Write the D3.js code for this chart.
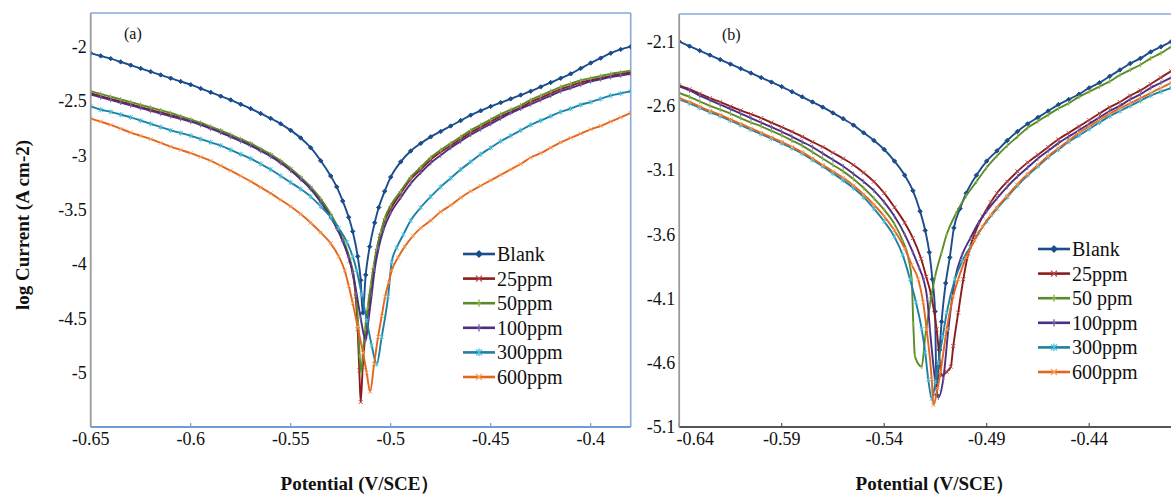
<!DOCTYPE html>
<html><head><meta charset="utf-8">
<script src="https://cdn.jsdelivr.net/npm/d3@7"></script>
<style>html,body{margin:0;padding:0;background:#fff;} svg{display:block;}</style>
</head><body><svg id="chart" width="1171" height="494"></svg>
<script>
// ---------------- DATA ----------------
const seriesNamesA = ["Blank","25ppm","50ppm","100ppm","300ppm","600ppm"];
const seriesNamesB = ["Blank","25ppm","50 ppm","100ppm","300ppm","600ppm"];

const xTicksA = [-0.65,-0.6,-0.55,-0.5,-0.45,-0.4];
const xTickLabelsA = ["-0.65","-0.6","-0.55","-0.5","-0.45","-0.4"];
const yTicksA = [-2,-2.5,-3,-3.5,-4,-4.5,-5];
const yTickLabelsA = ["-2","-2.5","-3","-3.5","-4","-4.5","-5"];

const xTicksB = [-0.64,-0.59,-0.54,-0.49,-0.44];
const xTickLabelsB = ["-0.64","-0.59","-0.54","-0.49","-0.44"];
const yTicksB = [-2.1,-2.6,-3.1,-3.6,-4.1,-4.6,-5.1];
const yTickLabelsB = ["-2.1","-2.6","-3.1","-3.6","-4.1","-4.6","-5.1"];

// Panel (a): [potential V/SCE, log current]
const blankA = [[-0.650,-2.06],[-0.645,-2.085],[-0.640,-2.11],[-0.635,-2.14],[-0.630,-2.17],[-0.625,-2.20],[-0.620,-2.23],[-0.615,-2.26],[-0.610,-2.29],[-0.605,-2.32],[-0.600,-2.35],[-0.595,-2.385],[-0.590,-2.42],[-0.585,-2.455],[-0.580,-2.49],[-0.575,-2.53],[-0.570,-2.57],[-0.565,-2.615],[-0.560,-2.66],[-0.555,-2.71],[-0.550,-2.77],[-0.545,-2.84],[-0.540,-2.93],[-0.535,-3.05],[-0.530,-3.19],[-0.527,-3.29],[-0.524,-3.42],[-0.521,-3.57],[-0.519,-3.70],[-0.5165,-3.93],[-0.5150,-4.15],[-0.5140,-4.45],[-0.5125,-4.10],[-0.5105,-3.84],[-0.508,-3.62],[-0.506,-3.48],[-0.503,-3.33],[-0.500,-3.20],[-0.495,-3.06],[-0.490,-2.96],[-0.485,-2.89],[-0.480,-2.83],[-0.475,-2.78],[-0.470,-2.73],[-0.465,-2.68],[-0.460,-2.63],[-0.455,-2.59],[-0.450,-2.55],[-0.445,-2.515],[-0.440,-2.48],[-0.435,-2.445],[-0.430,-2.41],[-0.425,-2.37],[-0.420,-2.33],[-0.415,-2.29],[-0.410,-2.25],[-0.405,-2.20],[-0.400,-2.15],[-0.395,-2.105],[-0.390,-2.06],[-0.385,-2.025],[-0.380,-2.00]];
const ppm25A = [[-0.650,-2.43],[-0.645,-2.455],[-0.640,-2.48],[-0.635,-2.505],[-0.630,-2.53],[-0.625,-2.555],[-0.620,-2.58],[-0.615,-2.605],[-0.610,-2.63],[-0.605,-2.655],[-0.600,-2.68],[-0.595,-2.71],[-0.590,-2.745],[-0.585,-2.78],[-0.580,-2.82],[-0.575,-2.86],[-0.570,-2.90],[-0.565,-2.95],[-0.560,-3.00],[-0.555,-3.06],[-0.550,-3.13],[-0.545,-3.21],[-0.540,-3.30],[-0.535,-3.42],[-0.530,-3.56],[-0.527,-3.66],[-0.524,-3.78],[-0.5205,-3.97],[-0.519,-4.08],[-0.5175,-4.30],[-0.5165,-4.60],[-0.5157,-4.98],[-0.5150,-5.27],[-0.5140,-4.95],[-0.5128,-4.67],[-0.5115,-4.45],[-0.5104,-4.30],[-0.5087,-4.06],[-0.507,-3.88],[-0.5054,-3.74],[-0.503,-3.60],[-0.500,-3.49],[-0.495,-3.35],[-0.490,-3.22],[-0.485,-3.13],[-0.480,-3.04],[-0.475,-2.97],[-0.470,-2.91],[-0.465,-2.85],[-0.460,-2.79],[-0.455,-2.74],[-0.450,-2.69],[-0.445,-2.64],[-0.440,-2.60],[-0.435,-2.56],[-0.430,-2.51],[-0.425,-2.47],[-0.420,-2.43],[-0.415,-2.39],[-0.410,-2.36],[-0.405,-2.33],[-0.400,-2.31],[-0.395,-2.29],[-0.390,-2.27],[-0.385,-2.25],[-0.380,-2.24]];
const ppm50A = [[-0.650,-2.41],[-0.645,-2.435],[-0.640,-2.46],[-0.635,-2.485],[-0.630,-2.51],[-0.625,-2.535],[-0.620,-2.56],[-0.615,-2.585],[-0.610,-2.61],[-0.605,-2.64],[-0.600,-2.67],[-0.595,-2.70],[-0.590,-2.735],[-0.585,-2.77],[-0.580,-2.81],[-0.575,-2.85],[-0.570,-2.89],[-0.565,-2.94],[-0.560,-2.99],[-0.555,-3.05],[-0.550,-3.12],[-0.545,-3.20],[-0.540,-3.29],[-0.535,-3.40],[-0.530,-3.54],[-0.527,-3.64],[-0.524,-3.76],[-0.5205,-3.95],[-0.519,-4.06],[-0.5175,-4.25],[-0.5163,-4.55],[-0.5155,-4.85],[-0.5148,-5.00],[-0.5138,-4.80],[-0.5128,-4.60],[-0.5115,-4.40],[-0.5100,-4.20],[-0.5085,-4.02],[-0.507,-3.86],[-0.505,-3.71],[-0.503,-3.58],[-0.500,-3.46],[-0.495,-3.33],[-0.490,-3.20],[-0.485,-3.11],[-0.480,-3.02],[-0.475,-2.95],[-0.470,-2.89],[-0.465,-2.83],[-0.460,-2.77],[-0.455,-2.72],[-0.450,-2.67],[-0.445,-2.62],[-0.440,-2.58],[-0.435,-2.54],[-0.430,-2.49],[-0.425,-2.45],[-0.420,-2.41],[-0.415,-2.37],[-0.410,-2.34],[-0.405,-2.31],[-0.400,-2.29],[-0.395,-2.27],[-0.390,-2.25],[-0.385,-2.235],[-0.380,-2.22]];
const ppm100A = [[-0.650,-2.44],[-0.645,-2.465],[-0.640,-2.49],[-0.635,-2.515],[-0.630,-2.54],[-0.625,-2.565],[-0.620,-2.59],[-0.615,-2.615],[-0.610,-2.64],[-0.605,-2.665],[-0.600,-2.69],[-0.595,-2.72],[-0.590,-2.755],[-0.585,-2.79],[-0.580,-2.83],[-0.575,-2.87],[-0.570,-2.91],[-0.565,-2.96],[-0.560,-3.01],[-0.555,-3.07],[-0.550,-3.14],[-0.545,-3.22],[-0.540,-3.31],[-0.535,-3.43],[-0.530,-3.57],[-0.527,-3.67],[-0.524,-3.79],[-0.521,-3.94],[-0.519,-4.08],[-0.517,-4.28],[-0.5150,-4.50],[-0.5125,-4.70],[-0.5110,-4.50],[-0.5095,-4.28],[-0.508,-4.05],[-0.506,-3.85],[-0.5035,-3.68],[-0.500,-3.53],[-0.495,-3.39],[-0.490,-3.26],[-0.485,-3.16],[-0.480,-3.07],[-0.475,-3.00],[-0.470,-2.93],[-0.465,-2.87],[-0.460,-2.81],[-0.455,-2.76],[-0.450,-2.71],[-0.445,-2.66],[-0.440,-2.61],[-0.435,-2.57],[-0.430,-2.53],[-0.425,-2.49],[-0.420,-2.45],[-0.415,-2.41],[-0.410,-2.38],[-0.405,-2.35],[-0.400,-2.32],[-0.395,-2.30],[-0.390,-2.28],[-0.385,-2.265],[-0.380,-2.25]];
const ppm300A = [[-0.650,-2.55],[-0.645,-2.58],[-0.640,-2.60],[-0.635,-2.625],[-0.630,-2.65],[-0.625,-2.68],[-0.620,-2.71],[-0.615,-2.74],[-0.610,-2.77],[-0.605,-2.795],[-0.600,-2.82],[-0.595,-2.85],[-0.590,-2.88],[-0.585,-2.91],[-0.580,-2.95],[-0.575,-2.99],[-0.570,-3.03],[-0.565,-3.08],[-0.560,-3.13],[-0.555,-3.19],[-0.550,-3.25],[-0.545,-3.31],[-0.540,-3.38],[-0.535,-3.47],[-0.530,-3.57],[-0.526,-3.67],[-0.5218,-3.80],[-0.519,-3.93],[-0.517,-4.06],[-0.5145,-4.28],[-0.512,-4.52],[-0.5095,-4.75],[-0.5070,-4.92],[-0.5045,-4.67],[-0.5013,-4.30],[-0.4995,-3.98],[-0.497,-3.85],[-0.4937,-3.73],[-0.490,-3.60],[-0.485,-3.48],[-0.480,-3.38],[-0.475,-3.29],[-0.470,-3.21],[-0.465,-3.13],[-0.460,-3.06],[-0.455,-2.99],[-0.450,-2.93],[-0.445,-2.87],[-0.440,-2.82],[-0.435,-2.77],[-0.430,-2.72],[-0.425,-2.68],[-0.420,-2.64],[-0.415,-2.60],[-0.410,-2.57],[-0.405,-2.535],[-0.400,-2.51],[-0.395,-2.48],[-0.390,-2.45],[-0.385,-2.43],[-0.380,-2.41]];
const ppm600A = [[-0.650,-2.66],[-0.645,-2.69],[-0.640,-2.72],[-0.635,-2.755],[-0.630,-2.79],[-0.625,-2.82],[-0.620,-2.85],[-0.615,-2.885],[-0.610,-2.92],[-0.605,-2.95],[-0.600,-2.98],[-0.595,-3.015],[-0.590,-3.05],[-0.585,-3.095],[-0.580,-3.14],[-0.575,-3.19],[-0.570,-3.24],[-0.565,-3.295],[-0.560,-3.35],[-0.555,-3.41],[-0.550,-3.47],[-0.545,-3.54],[-0.540,-3.62],[-0.535,-3.71],[-0.530,-3.81],[-0.526,-3.93],[-0.523,-4.06],[-0.521,-4.20],[-0.519,-4.36],[-0.5165,-4.58],[-0.5138,-4.82],[-0.512,-5.00],[-0.5103,-5.175],[-0.5083,-4.92],[-0.5063,-4.67],[-0.5045,-4.48],[-0.5028,-4.30],[-0.5010,-4.17],[-0.4995,-4.06],[-0.4963,-3.94],[-0.493,-3.84],[-0.4888,-3.74],[-0.485,-3.67],[-0.480,-3.60],[-0.475,-3.52],[-0.470,-3.46],[-0.465,-3.39],[-0.460,-3.33],[-0.455,-3.28],[-0.450,-3.23],[-0.445,-3.18],[-0.440,-3.13],[-0.435,-3.08],[-0.430,-3.02],[-0.425,-2.98],[-0.420,-2.93],[-0.415,-2.88],[-0.410,-2.84],[-0.405,-2.80],[-0.400,-2.76],[-0.395,-2.73],[-0.390,-2.69],[-0.385,-2.65],[-0.380,-2.61]];

// Panel (b)
const blankB = [[-0.640,-2.10],[-0.635,-2.135],[-0.630,-2.17],[-0.625,-2.205],[-0.620,-2.24],[-0.615,-2.275],[-0.610,-2.31],[-0.605,-2.345],[-0.600,-2.38],[-0.595,-2.415],[-0.590,-2.45],[-0.585,-2.49],[-0.580,-2.53],[-0.575,-2.57],[-0.570,-2.61],[-0.565,-2.655],[-0.560,-2.70],[-0.555,-2.75],[-0.550,-2.81],[-0.545,-2.87],[-0.540,-2.94],[-0.535,-3.03],[-0.530,-3.14],[-0.526,-3.26],[-0.5225,-3.42],[-0.520,-3.57],[-0.518,-3.74],[-0.5165,-3.95],[-0.5152,-4.20],[-0.5144,-4.85],[-0.5130,-4.50],[-0.5120,-4.28],[-0.510,-3.98],[-0.508,-3.78],[-0.506,-3.55],[-0.503,-3.40],[-0.500,-3.28],[-0.495,-3.14],[-0.490,-3.03],[-0.485,-2.95],[-0.480,-2.87],[-0.475,-2.80],[-0.470,-2.74],[-0.465,-2.69],[-0.460,-2.64],[-0.455,-2.59],[-0.450,-2.55],[-0.445,-2.51],[-0.440,-2.46],[-0.435,-2.42],[-0.430,-2.37],[-0.425,-2.32],[-0.420,-2.27],[-0.415,-2.23],[-0.410,-2.18],[-0.405,-2.14],[-0.400,-2.10],[-0.395,-2.06]];
const ppm25B = [[-0.640,-2.44],[-0.635,-2.47],[-0.630,-2.505],[-0.625,-2.54],[-0.620,-2.57],[-0.615,-2.605],[-0.610,-2.635],[-0.605,-2.665],[-0.600,-2.695],[-0.595,-2.73],[-0.590,-2.765],[-0.585,-2.80],[-0.580,-2.84],[-0.575,-2.88],[-0.570,-2.92],[-0.565,-2.965],[-0.560,-3.01],[-0.555,-3.06],[-0.550,-3.12],[-0.545,-3.19],[-0.540,-3.28],[-0.535,-3.39],[-0.530,-3.51],[-0.526,-3.63],[-0.522,-3.79],[-0.5195,-3.93],[-0.517,-4.08],[-0.5144,-4.34],[-0.5128,-4.60],[-0.5120,-4.70],[-0.5095,-4.67],[-0.5075,-4.63],[-0.5063,-4.47],[-0.5039,-4.21],[-0.5014,-3.95],[-0.4990,-3.75],[-0.4960,-3.60],[-0.4920,-3.46],[-0.4880,-3.35],[-0.485,-3.28],[-0.480,-3.19],[-0.475,-3.11],[-0.470,-3.04],[-0.465,-2.98],[-0.460,-2.92],[-0.455,-2.86],[-0.450,-2.81],[-0.445,-2.76],[-0.440,-2.71],[-0.435,-2.66],[-0.430,-2.61],[-0.425,-2.57],[-0.420,-2.52],[-0.415,-2.48],[-0.410,-2.43],[-0.405,-2.38],[-0.400,-2.33],[-0.395,-2.29]];
const ppm50B = [[-0.640,-2.50],[-0.635,-2.53],[-0.630,-2.565],[-0.625,-2.60],[-0.620,-2.63],[-0.615,-2.66],[-0.610,-2.695],[-0.605,-2.73],[-0.600,-2.76],[-0.595,-2.795],[-0.590,-2.83],[-0.585,-2.87],[-0.580,-2.91],[-0.575,-2.96],[-0.570,-3.01],[-0.565,-3.06],[-0.560,-3.11],[-0.555,-3.17],[-0.550,-3.24],[-0.545,-3.32],[-0.540,-3.41],[-0.535,-3.52],[-0.531,-3.65],[-0.528,-3.80],[-0.5266,-3.95],[-0.5258,-4.30],[-0.5250,-4.55],[-0.5217,-4.63],[-0.5200,-4.40],[-0.5177,-4.15],[-0.5152,-3.93],[-0.512,-3.74],[-0.5095,-3.60],[-0.505,-3.44],[-0.500,-3.30],[-0.495,-3.19],[-0.490,-3.08],[-0.485,-2.99],[-0.480,-2.91],[-0.475,-2.84],[-0.470,-2.77],[-0.465,-2.72],[-0.460,-2.67],[-0.455,-2.62],[-0.450,-2.58],[-0.445,-2.53],[-0.440,-2.49],[-0.435,-2.45],[-0.430,-2.41],[-0.425,-2.36],[-0.420,-2.32],[-0.415,-2.28],[-0.410,-2.23],[-0.405,-2.19],[-0.400,-2.14],[-0.395,-2.10]];
const ppm100B = [[-0.640,-2.45],[-0.635,-2.48],[-0.630,-2.52],[-0.625,-2.555],[-0.620,-2.59],[-0.615,-2.625],[-0.610,-2.66],[-0.605,-2.695],[-0.600,-2.73],[-0.595,-2.765],[-0.590,-2.80],[-0.585,-2.84],[-0.580,-2.88],[-0.575,-2.92],[-0.570,-2.97],[-0.565,-3.02],[-0.560,-3.07],[-0.555,-3.13],[-0.550,-3.19],[-0.545,-3.26],[-0.540,-3.35],[-0.535,-3.46],[-0.530,-3.60],[-0.526,-3.74],[-0.523,-3.86],[-0.5209,-3.95],[-0.5190,-4.10],[-0.5177,-4.34],[-0.5152,-4.73],[-0.5136,-4.87],[-0.5112,-4.73],[-0.5087,-4.34],[-0.5055,-3.95],[-0.5020,-3.76],[-0.4980,-3.63],[-0.4940,-3.51],[-0.490,-3.42],[-0.485,-3.32],[-0.480,-3.23],[-0.475,-3.15],[-0.470,-3.08],[-0.465,-3.01],[-0.460,-2.95],[-0.455,-2.89],[-0.450,-2.84],[-0.445,-2.79],[-0.440,-2.74],[-0.435,-2.69],[-0.430,-2.64],[-0.425,-2.60],[-0.420,-2.55],[-0.415,-2.51],[-0.410,-2.46],[-0.405,-2.42],[-0.400,-2.38],[-0.395,-2.34]];
const ppm300B = [[-0.640,-2.55],[-0.635,-2.58],[-0.630,-2.615],[-0.625,-2.65],[-0.620,-2.68],[-0.615,-2.715],[-0.610,-2.75],[-0.605,-2.785],[-0.600,-2.82],[-0.595,-2.855],[-0.590,-2.89],[-0.585,-2.93],[-0.580,-2.97],[-0.575,-3.02],[-0.570,-3.07],[-0.565,-3.125],[-0.560,-3.18],[-0.555,-3.24],[-0.550,-3.31],[-0.545,-3.40],[-0.540,-3.50],[-0.535,-3.62],[-0.531,-3.76],[-0.5274,-3.95],[-0.5245,-4.13],[-0.5217,-4.34],[-0.5200,-4.52],[-0.5185,-4.73],[-0.5168,-4.88],[-0.5150,-4.75],[-0.5136,-4.60],[-0.5115,-4.40],[-0.5095,-4.21],[-0.5055,-3.95],[-0.5020,-3.81],[-0.4980,-3.70],[-0.4940,-3.59],[-0.490,-3.50],[-0.485,-3.40],[-0.480,-3.31],[-0.475,-3.22],[-0.470,-3.14],[-0.465,-3.07],[-0.460,-3.00],[-0.455,-2.94],[-0.450,-2.88],[-0.445,-2.83],[-0.440,-2.78],[-0.435,-2.73],[-0.430,-2.68],[-0.425,-2.64],[-0.420,-2.60],[-0.415,-2.56],[-0.410,-2.52],[-0.405,-2.49],[-0.400,-2.46],[-0.395,-2.43]];
const ppm600B = [[-0.640,-2.54],[-0.635,-2.57],[-0.630,-2.605],[-0.625,-2.64],[-0.620,-2.67],[-0.615,-2.705],[-0.610,-2.74],[-0.605,-2.775],[-0.600,-2.81],[-0.595,-2.845],[-0.590,-2.88],[-0.585,-2.92],[-0.580,-2.96],[-0.575,-3.01],[-0.570,-3.06],[-0.565,-3.11],[-0.560,-3.16],[-0.555,-3.22],[-0.550,-3.29],[-0.545,-3.37],[-0.540,-3.46],[-0.535,-3.57],[-0.530,-3.71],[-0.5265,-3.84],[-0.5234,-3.95],[-0.5210,-4.13],[-0.5193,-4.34],[-0.5168,-4.73],[-0.5160,-4.93],[-0.5140,-4.80],[-0.5125,-4.67],[-0.5095,-4.34],[-0.5063,-4.08],[-0.5039,-3.95],[-0.5000,-3.78],[-0.4960,-3.65],[-0.492,-3.54],[-0.488,-3.45],[-0.485,-3.39],[-0.480,-3.30],[-0.475,-3.21],[-0.470,-3.13],[-0.465,-3.06],[-0.460,-2.99],[-0.455,-2.93],[-0.450,-2.87],[-0.445,-2.81],[-0.440,-2.76],[-0.435,-2.71],[-0.430,-2.66],[-0.425,-2.62],[-0.420,-2.58],[-0.415,-2.54],[-0.410,-2.50],[-0.405,-2.46],[-0.400,-2.42],[-0.395,-2.38]];

const xTitle = "Potential (V/SCE）";
const yTitle = "log Current (A cm-2)";

// ---------------- STYLE ----------------
const lineColors = ["#1b4c8c","#8b1c1c","#5b8a2a","#4a2f7e","#1f7fa3","#e3661f"];
const markColors = ["#2a5ea8","#c04848","#8ab443","#7a5aa8","#45c3dc","#f7a35a"];
const markTypes  = ["diamond","x","plus","plus","star","x"];
const serif = "Liberation Serif, Times New Roman, serif";

const svg = d3.select("#chart");

function markPath(type, s){
  if(type==="x") return `M${-s},${-s}L${s},${s}M${-s},${s}L${s},${-s}`;
  if(type==="plus") return `M0,${-s*1.2}L0,${s*1.2}M${-s*0.6},0L${s*0.6},0`;
  if(type==="star") return `M${-s},${-s}L${s},${s}M${-s},${s}L${s},${-s}M0,${-s*1.3}L0,${s*1.3}`;
  return `M0,${-s}L${s},0L0,${s}L${-s},0Z`;
}

function drawPanel(cfg){
  const x = d3.scaleLinear().domain(cfg.xDomain).range(cfg.xRange);
  const y = d3.scaleLinear().domain(cfg.yDomain).range(cfg.yRange);
  const g = svg.append("g");
  const left = cfg.xRange[0], right = Math.min(cfg.xRange[1], 1171);
  const top = cfg.yRange[1], bottom = cfg.yRange[0];

  const clipId = "clip"+cfg.id;
  svg.append("clipPath").attr("id",clipId).append("rect")
    .attr("x",left).attr("y",top).attr("width",right-left).attr("height",bottom-top);

  // frame
  g.append("line").attr("x1",left).attr("x2",right).attr("y1",top).attr("y2",top)
    .attr("stroke","#86a8dc").attr("stroke-width",1.6);
  if(cfg.rightBorder) g.append("line").attr("x1",right).attr("x2",right).attr("y1",top).attr("y2",bottom)
    .attr("stroke","#86a8dc").attr("stroke-width",1.6);

  // series
  const line = d3.line().x(d=>x(d[0])).y(d=>y(d[1])).curve(d3.curveMonotoneX);
  const sg = g.append("g").attr("clip-path",`url(#${clipId})`);
  cfg.series.forEach((data,i)=>{
    sg.append("path").datum(data).attr("d",line).attr("fill","none")
      .attr("stroke",lineColors[i]).attr("stroke-width",1.9);
    sg.selectAll(null).data(data).enter().append("path")
      .attr("transform",d=>`translate(${x(d[0])},${y(d[1])})`)
      .attr("d",markPath(markTypes[i], markTypes[i]==="diamond"?2.2:2))
      .attr("fill",markTypes[i]==="diamond"?lineColors[i]:"none")
      .attr("stroke",markTypes[i]==="diamond"?lineColors[i]:markColors[i])
      .attr("stroke-width",1);
  });

  // x axis
  const xAxis = d3.axisBottom(x).tickValues(cfg.xTicks).tickSize(0).tickFormat(()=> "");
  const ax = g.append("g").attr("transform",`translate(0,${bottom})`).call(xAxis);
  ax.select(".domain").remove();
  g.append("line").attr("x1",left).attr("x2",right).attr("y1",bottom).attr("y2",bottom)
    .attr("stroke",cfg.bottomColor).attr("stroke-width",1.8);
  g.selectAll(null).data(cfg.xTicks).enter().append("line")
    .attr("x1",d=>x(d)).attr("x2",d=>x(d)).attr("y1",bottom).attr("y2",bottom-4)
    .attr("stroke",cfg.bottomColor).attr("stroke-width",1.2);
  g.selectAll(null).data(cfg.xTicks).enter().append("text")
    .attr("x",(d,i)=>x(d)+(i===0?cfg.firstXShift:0)).attr("y",bottom+18)
    .attr("text-anchor","middle").attr("font-family",serif).attr("font-size",18)
    .attr("fill","#111").text((d,i)=>cfg.xTickLabels[i]);

  // y axis
  g.append("line").attr("x1",left).attr("x2",left).attr("y1",top).attr("y2",bottom)
    .attr("stroke","#9a9a9a").attr("stroke-width",1.8);
  g.selectAll(null).data(cfg.yTicks).enter().append("text")
    .attr("x",left-4).attr("y",d=>y(d)).attr("dy","0.35em")
    .attr("text-anchor","end").attr("font-family",serif).attr("font-size",18)
    .attr("fill","#111").text((d,i)=>cfg.yTickLabels[i]);

  // panel tag
  g.append("text").attr("x",cfg.tagX).attr("y",top+26).attr("font-family",serif)
    .attr("font-size",16).attr("fill","#111").text(cfg.tag);

  // x title
  g.append("text").attr("x",cfg.xTitleX).attr("y",490).attr("text-anchor","middle")
    .attr("font-family",serif).attr("font-size",19).attr("font-weight","bold")
    .attr("fill","#111").text(xTitle);

  // legend
  cfg.names.forEach((nm,i)=>{
    const ly = cfg.legendY + i*cfg.legendDy;
    g.append("line").attr("x1",cfg.legendX).attr("x2",cfg.legendX+32).attr("y1",ly).attr("y2",ly)
      .attr("stroke",lineColors[i]).attr("stroke-width",2.6);
    g.append("path").attr("transform",`translate(${cfg.legendX+16},${ly})`)
      .attr("d",markPath(markTypes[i], 3))
      .attr("fill",markTypes[i]==="diamond"?lineColors[i]:"none")
      .attr("stroke",markTypes[i]==="diamond"?lineColors[i]:markColors[i]).attr("stroke-width",1.3);
    g.append("text").attr("x",cfg.legendX+34).attr("y",ly).attr("dy","0.35em")
      .attr("font-family",serif).attr("font-size",20).attr("fill","#111").text(nm);
  });
}

drawPanel({id:"A", xDomain:[-0.65,-0.38], xRange:[90.7,630.7], yDomain:[-5.5,-1.69], yRange:[427,13],
  xTicks:xTicksA, xTickLabels:xTickLabelsA, yTicks:yTicksA, yTickLabels:yTickLabelsA,
  series:[blankA,ppm25A,ppm50A,ppm100A,ppm300A,ppm600A], names:seriesNamesA,
  rightBorder:true, bottomColor:"#6f9bd6", firstXShift:0, tag:"(a)", tagX:124,
  xTitleX:360, legendX:463, legendY:254, legendDy:24.6});

drawPanel({id:"B", xDomain:[-0.64,-0.39], xRange:[679.2,1191.7], yDomain:[-5.1,-1.885], yRange:[427,14],
  xTicks:xTicksB, xTickLabels:xTickLabelsB, yTicks:yTicksB, yTickLabels:yTickLabelsB,
  series:[blankB,ppm25B,ppm50B,ppm100B,ppm300B,ppm600B], names:seriesNamesB,
  rightBorder:false, bottomColor:"#555", firstXShift:16, tag:"(b)", tagX:722,
  xTitleX:935, legendX:1038, legendY:249, legendDy:24.6});

// y title (shared, left)
svg.append("text").attr("transform","translate(29,225) rotate(-90)").attr("text-anchor","middle")
  .attr("font-family",serif).attr("font-size",19).attr("font-weight","bold").attr("fill","#111")
  .text(yTitle);
</script>
</body></html>
